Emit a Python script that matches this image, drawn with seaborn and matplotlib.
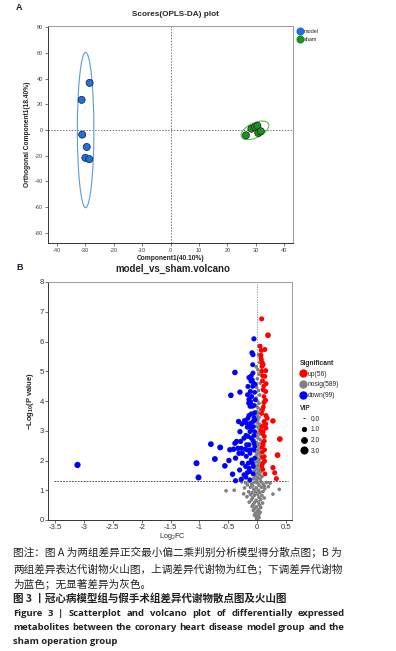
import numpy as np
import pandas as pd
import matplotlib
matplotlib.use("Agg")
import matplotlib.pyplot as plt
from matplotlib.lines import Line2D
from matplotlib.patches import Ellipse
import seaborn as sns

sns.set_theme(style="white")
plt.rcParams["font.family"] = ["Liberation Sans", "Noto Sans CJK SC", "DejaVu Sans"]
plt.rcParams["axes.unicode_minus"] = False
plt.rcParams["mathtext.default"] = "regular"

# ---------------- data ----------------
# Panel A: OPLS-DA scores
model_pc1 = [-28.4, -31.2, -31.0, -29.4, -29.9, -28.5]
model_pc2 = [36.7, 23.5, -3.6, -13.2, -21.7, -22.7]
sham_pc1 = [26.5, 28.4, 29.6, 30.5, 30.8, 31.7]
sham_pc2 = [-4.1, 1.0, 2.3, 3.3, -2.3, -1.0]
groups = ["model", "sham"]
pc1_label = "Component1(40.10%)"
pc2_label = "Orthogonal Component1(18.40%)"

# Panel B: volcano (log2FC, -log10 P, VIP)
up_points = [
    (0.075, 6.76, 1.5), (0.185, 6.21, 2.0), (0.05, 5.84, 1.4), (0.13, 5.73, 1.5), (0.07, 5.70, 1.4),
    (0.064, 5.54, 1.4), (0.07, 5.39, 1.4), (0.087, 5.28, 1.5), (0.10, 5.22, 1.5), (0.08, 5.16, 1.4),
    (0.145, 5.02, 1.5), (0.13, 4.83, 1.5), (0.09, 4.68, 1.4), (0.15, 4.58, 1.5), (0.10, 4.38, 1.4),
    (0.145, 4.32, 1.5), (0.14, 4.02, 1.6), (0.116, 3.95, 1.5), (0.15, 3.51, 1.5), (0.17, 3.42, 1.5),
    (0.27, 3.33, 1.8), (0.116, 3.31, 1.4), (0.145, 3.23, 1.5), (0.08, 3.14, 1.4), (0.15, 3.09, 1.4),
    (0.10, 2.97, 1.4), (0.12, 2.81, 1.4), (0.12, 2.65, 1.4), (0.39, 2.72, 2.0), (0.127, 2.36, 1.3),
    (0.12, 2.13, 1.3), (0.35, 2.18, 2.0), (0.127, 1.98, 1.3), (0.27, 1.76, 1.6), (0.30, 1.59, 1.5),
    (0.133, 1.55, 1.3), (0.33, 1.39, 1.5), (0.09, 2.90, 1.3), (0.095, 2.60, 1.3), (0.08, 2.45, 1.3),
    (0.085, 2.28, 1.3), (0.09, 2.10, 1.3), (0.10, 1.92, 1.3), (0.095, 1.70, 1.3), (0.105, 3.80, 1.3),
    (0.09, 3.70, 1.3), (0.075, 3.58, 1.3), (0.062, 5.45, 1.3), (0.075, 5.00, 1.3), (0.11, 4.50, 1.3),
    (0.115, 4.15, 1.3), (0.09, 4.85, 1.3), (0.125, 3.20, 1.3), (0.06, 3.00, 1.3), (0.10, 2.52, 1.3),
    (0.08, 1.82, 1.3),
]
down_points = [
    (-0.058, 6.09, 1.6), (-0.092, 5.62, 1.6), (-0.075, 5.56, 1.6), (-0.08, 5.22, 1.4), (-0.387, 4.96, 1.9),
    (-0.075, 4.94, 1.4), (-0.145, 4.79, 1.5), (-0.087, 4.71, 1.4), (-0.11, 4.67, 1.5), (-0.064, 4.60, 1.4),
    (-0.035, 4.56, 1.3), (-0.12, 4.32, 1.5), (-0.30, 4.30, 1.7), (-0.168, 4.21, 1.5), (-0.457, 4.19, 1.9),
    (-0.098, 4.15, 1.4), (-0.145, 4.05, 1.5), (-0.116, 3.98, 1.4), (-0.098, 3.87, 1.4), (-0.058, 3.85, 1.4),
    (-0.104, 3.57, 1.4), (-0.145, 3.51, 1.5), (-0.162, 3.42, 1.5), (-0.22, 3.34, 1.6), (-0.324, 3.31, 1.7),
    (-0.266, 3.23, 1.6), (-0.116, 3.25, 1.4), (-0.075, 3.31, 1.4), (-0.173, 3.12, 1.5), (-0.104, 3.03, 1.4),
    (-0.046, 2.97, 1.3), (-0.30, 2.97, 1.7), (-0.127, 2.97, 1.4), (-0.197, 2.84, 1.5), (-0.058, 2.84, 1.4),
    (-0.104, 2.75, 1.4), (-0.075, 2.67, 1.4), (-0.358, 2.64, 1.7), (-0.185, 2.53, 1.5), (-0.145, 2.53, 1.5),
    (-0.387, 2.58, 1.7), (-0.803, 2.55, 2.0), (-0.058, 2.58, 1.4), (-0.642, 2.44, 2.1), (-0.41, 2.38, 1.8),
    (-0.474, 2.36, 1.8), (-0.173, 2.36, 1.5), (-0.26, 2.24, 1.6), (-0.127, 2.24, 1.4), (-0.318, 2.24, 1.6),
    (-0.19, 2.14, 1.5), (-0.376, 2.08, 1.7), (-0.734, 2.05, 2.1), (-0.491, 2.00, 1.8), (-1.052, 1.91, 2.2),
    (-0.561, 1.82, 1.9), (-0.145, 1.74, 1.5), (-0.07, 1.80, 1.4), (-3.11, 1.85, 2.4), (-0.306, 1.68, 1.6),
    (-0.173, 1.59, 1.5), (-0.428, 1.54, 1.8), (-0.07, 1.55, 1.4), (-0.197, 1.44, 1.5), (-1.017, 1.43, 2.2),
    (-0.277, 1.37, 1.6), (-0.376, 1.32, 1.6), (-0.127, 1.35, 1.4), (-0.087, 1.91, 1.4), (-0.046, 2.08, 1.3),
    (-0.058, 2.36, 1.4), (-0.046, 2.47, 1.3), (-0.07, 3.14, 1.4), (-0.04, 3.37, 1.3), (-0.046, 3.61, 1.3),
    (-0.035, 4.04, 1.3), (-0.046, 4.29, 1.3), (-0.08, 4.49, 1.4), (-0.162, 2.81, 1.5), (-0.23, 2.75, 1.6),
    (-0.116, 2.36, 1.4), (-0.208, 2.38, 1.5), (-0.277, 2.41, 1.6), (-0.104, 2.02, 1.4), (-0.156, 1.91, 1.5),
    (-0.202, 1.80, 1.5), (-0.26, 1.91, 1.6), (-0.127, 1.63, 1.4), (-0.23, 1.52, 1.5), (-0.335, 2.41, 1.7),
    (-0.289, 2.64, 1.6), (-0.145, 3.14, 1.5), (-0.19, 3.26, 1.5), (-0.087, 3.82, 1.4), (-0.127, 3.82, 1.4),
    (-0.162, 4.49, 1.5), (-0.104, 4.85, 1.4), (-0.15, 3.93, 1.5), (-0.06, 3.45, 1.3),
]
nosig_points = [
    (0.03, 5.85), (0.02, 5.55), (0.04, 5.30), (-0.02, 5.15), (0.01, 5.05), (0.03, 4.90), (0.0, 4.75),
    (0.05, 4.60), (-0.01, 4.45), (0.02, 4.35), (0.04, 4.20), (-0.02, 4.10), (0.0, 4.00), (0.03, 3.92),
    (-0.03, 3.85), (0.01, 3.78), (0.05, 3.72), (-0.01, 3.65), (0.02, 3.60), (-0.04, 3.55), (0.0, 3.50),
    (0.03, 3.45), (-0.02, 3.40), (0.01, 3.35),
    (-0.05, 3.30), (0.0, 3.28), (0.04, 3.22), (-0.02, 3.15), (0.02, 3.10), (0.05, 3.02), (-0.04, 2.98),
    (0.0, 2.93), (0.03, 2.88), (-0.02, 2.82), (0.01, 2.76), (0.05, 2.70), (-0.05, 2.66), (-0.01, 2.60),
    (0.03, 2.55), (0.0, 2.50), (-0.03, 2.45), (0.04, 2.40), (0.01, 2.35), (-0.04, 2.30), (0.02, 2.26),
    (-0.01, 2.20), (0.05, 2.16), (-0.03, 2.12), (0.0, 2.08), (0.03, 2.03),
    (-0.06, 1.98), (-0.01, 1.95), (0.04, 1.92), (0.07, 1.88), (-0.04, 1.85), (0.01, 1.82), (-0.07, 1.78),
    (0.05, 1.76), (-0.02, 1.72), (0.02, 1.68), (-0.05, 1.65), (0.06, 1.62), (0.0, 1.58), (-0.08, 1.55),
    (0.04, 1.52), (-0.03, 1.48), (0.08, 1.46), (0.01, 1.42), (-0.06, 1.40), (0.05, 1.38), (-0.01, 1.35),
    (-0.27, 1.28), (-0.20, 1.25), (-0.14, 1.30), (-0.10, 1.22), (-0.05, 1.27), (0.0, 1.25), (0.06, 1.29),
    (0.10, 1.21), (0.16, 1.26), (0.22, 1.24), (-0.17, 1.18), (-0.08, 1.15), (0.03, 1.17), (0.12, 1.14),
    (-0.12, 1.10), (-0.02, 1.08), (0.07, 1.10), (0.19, 1.12), (-0.22, 1.08), (0.13, 1.05), (-0.06, 1.03),
    (0.02, 1.00), (-0.54, 0.98), (-0.40, 1.00), (-0.235, 0.88), (0.38, 1.03), (0.27, 0.87),
    (-0.15, 0.95), (-0.09, 0.92), (-0.03, 0.94), (0.05, 0.93), (0.10, 0.96), (-0.12, 0.85), (-0.05, 0.83),
    (0.01, 0.86), (0.08, 0.82), (-0.18, 0.78), (-0.08, 0.75), (0.03, 0.76), (0.12, 0.74), (-0.10, 0.68),
    (-0.02, 0.66), (0.06, 0.69), (-0.14, 0.60), (-0.05, 0.58), (0.02, 0.60), (0.09, 0.57), (-0.07, 0.52),
    (0.04, 0.50),
    (-0.09, 0.46), (-0.02, 0.44), (0.06, 0.42), (-0.05, 0.38), (0.02, 0.35), (-0.07, 0.32), (0.0, 0.29),
    (0.05, 0.26), (-0.03, 0.23), (0.03, 0.20), (-0.05, 0.17), (0.01, 0.14), (-0.02, 0.10), (0.03, 0.08),
    (0.0, 0.05), (-0.01, 0.02),
]
nosig_vip = 0.7
sig_labels = ["up(56)", "nosig(589)", "down(99)"]
vip_levels = [0.0, 1.0, 2.0, 3.0]
p_cut = 0.05

caption_cn = [
    "图注：图 A 为两组差异正交最小偏二乘判别分析模型得分散点图；B 为",
    "两组差异表达代谢物火山图，上调差异代谢物为红色；下调差异代谢物",
    "为蓝色；无显著差异为灰色。",
]
caption_cn_title = "图 3 丨冠心病模型组与假手术组差异代谢物散点图及火山图"
caption_en = [
    "Figure 3  |  Scatterplot and volcano plot of differentially expressed",
    "metabolites between the coronary heart disease model group and the",
    "sham operation group",
]

# ---------------- figure ----------------
W, H = 396, 651
fig = plt.figure(figsize=(W / 100, H / 100), dpi=100)
fig.patch.set_facecolor("white")


def fx(px):
    return px / W


def fy(py):
    return 1 - py / H


group_colors = {"model": "#1f6fe5", "sham": "#1c921c"}

# ---- Panel A ----
axA = fig.add_axes([fx(48), fy(243), fx(245), 217 / H])
dfA = pd.DataFrame({
    "pc1": model_pc1 + sham_pc1,
    "pc2": model_pc2 + sham_pc2,
    "group": ["model"] * len(model_pc1) + ["sham"] * len(sham_pc1),
})
axA.axhline(0, color="#777777", lw=0.7, ls=(0, (1.5, 1.5)), zorder=0)
axA.axvline(0, color="#777777", lw=0.7, ls=(0, (1.5, 1.5)), zorder=0)
axA.add_patch(Ellipse((-29.8, 0), 5.8, 121, fill=False, edgecolor="#5b9ad8", lw=0.8))
t = np.linspace(0, 2 * np.pi, 200)
axA.plot(29.65 + 4.75 * np.cos(t) - 1.05 * np.sin(t),
         -0.25 + 5.05 * np.cos(t) + 5.2 * np.sin(t), color="#5cb85c", lw=0.8)
sns.scatterplot(data=dfA, x="pc1", y="pc2", hue="group", palette=group_colors,
                s=26, edgecolor="#1a1a1a", linewidth=0.5, legend=False, ax=axA, zorder=3)
axA.set_xlim(-43, 43)
axA.set_ylim(-88, 81)
axA.set_xticks(range(-40, 41, 10))
axA.set_yticks(range(-80, 81, 20))
axA.tick_params(labelsize=4, colors="#444444", length=2, width=0.5, pad=1.5,
                bottom=True, left=True)
axA.set_xlabel(pc1_label, fontsize=4.8, fontweight="bold", labelpad=1.5)
axA.set_ylabel(pc2_label, fontsize=4.8, fontweight="bold", labelpad=3)
for side in ["left", "bottom"]:
    axA.spines[side].set_color("#333333")
    axA.spines[side].set_linewidth(0.7)
for side in ["top", "right"]:
    axA.spines[side].set_color("#9a9a9a")
    axA.spines[side].set_linewidth(0.7)

handlesA = [Line2D([], [], marker="o", ls="", markersize=4.8, markerfacecolor=group_colors[g],
                   markeredgecolor=group_colors[g]) for g in groups]
axA.legend(handlesA, groups, loc="upper left", bbox_to_anchor=(fx(298), fy(29)),
           bbox_transform=fig.transFigure, frameon=False, fontsize=4, handlelength=0.8,
           handletextpad=0.3, labelspacing=0.6, borderaxespad=0, borderpad=0)

fig.text(fx(16), fy(8), "A", fontsize=6.5, fontweight="bold", color="#1a1a2e", va="center")
fig.text(fx(175), fy(14), "Scores(OPLS-DA) plot", fontsize=5.9, fontweight="bold",
         ha="center", va="center")

# ---- Panel B ----
axB = fig.add_axes([fx(48), fy(520), fx(244), 238 / H])
frames = []
for name, pts in [("nosig", [(x, y, nosig_vip) for x, y in nosig_points]),
                  ("down", down_points), ("up", up_points)]:
    fc, lp, vp = zip(*pts)
    frames.append(pd.DataFrame({"log2fc": fc, "logp": lp, "vip": vp, "sig": name}))
dfB = pd.concat(frames, ignore_index=True)
sig_colors = {"up": "#ff0000", "nosig": "#808080", "down": "#0000ff"}

axB.axvline(0, color="#8a8a8a", lw=0.6, ls=(0, (1.5, 1.5)), zorder=0)
axB.hlines(-np.log10(p_cut), -3.52, 0.53, color="#333333", lw=0.6, ls=(0, (2, 1.5)), zorder=0)
sns.scatterplot(data=dfB, x="log2fc", y="logp", hue="sig", size="vip", palette=sig_colors,
                sizes=(1.5, 25), size_norm=(0, 3), linewidth=0, legend=False, ax=axB, zorder=3)
axB.set_xlim(-3.62, 0.6)
axB.set_ylim(0, 8)
axB.set_xticks(np.arange(-3.5, 0.51, 0.5))
axB.set_xticklabels(["-3.5", "-3", "-2.5", "-2", "-1.5", "-1", "-0.5", "0", "0.5"])
axB.set_yticks(range(0, 9))
axB.tick_params(labelsize=5.6, colors="#333333", length=2, width=0.5, pad=1,
                bottom=True, left=True)
axB.set_xlabel("")
axB.set_ylabel("")
for side in ["left", "bottom"]:
    axB.spines[side].set_color("#333333")
    axB.spines[side].set_linewidth(0.7)
for side in ["top", "right"]:
    axB.spines[side].set_color("#9a9a9a")
    axB.spines[side].set_linewidth(0.7)

fig.text(fx(172), fy(537), "Log$_2$FC", fontsize=5.2, ha="center", va="center")
fig.text(fx(30), fy(401), r"$-$Log$_{10}$($P$ value)", fontsize=5.5, rotation=90,
         ha="center", va="center", fontweight="bold")
fig.text(fx(16), fy(267), "B", fontsize=6.5, fontweight="bold", color="#1a1a2e", va="center")
fig.text(fx(173), fy(269), "model_vs_sham.volcano", fontsize=7, fontweight="bold",
         ha="center", va="center")

handles_sig = [Line2D([], [], marker="o", ls="", markersize=5, markerfacecolor=sig_colors[k],
                      markeredgecolor=sig_colors[k]) for k in ["up", "nosig", "down"]]
leg1 = axB.legend(handles_sig, sig_labels, title="Significant", loc="upper left",
                  bbox_to_anchor=(fx(300), fy(360)), bbox_transform=fig.transFigure,
                  frameon=False, fontsize=4.8, title_fontproperties={"weight": "bold", "size": 4.8},
                  alignment="left", handlelength=0.9, handletextpad=0.3, labelspacing=0.55,
                  borderaxespad=0, borderpad=0)
axB.add_artist(leg1)
vip_sizes = [1.4, 3.2, 4.3, 5.2]
handles_vip = [Line2D([], [], marker="_" if v == 0 else "o", ls="", markersize=ms,
                      markerfacecolor="black", markeredgecolor="black", markeredgewidth=0.6)
               for v, ms in zip(vip_levels, vip_sizes)]
axB.legend(handles_vip, [f"{v:.1f}" for v in vip_levels], title="VIP", loc="upper left",
           bbox_to_anchor=(fx(300), fy(405)), bbox_transform=fig.transFigure,
           frameon=False, fontsize=4.8, title_fontproperties={"weight": "bold", "size": 4.8},
           alignment="left", handlelength=1.2, handletextpad=0.4, labelspacing=0.55,
           borderaxespad=0, borderpad=0)

# ---- caption ----
cn_family = ["Noto Sans CJK SC", "DejaVu Sans"]
for line, py in zip(caption_cn, [553, 569, 584]):
    fig.text(fx(13), fy(py), line, fontsize=7.65, family=cn_family, color="#222222", va="center")
fig.text(fx(13), fy(599), caption_cn_title, fontsize=7.6, family=cn_family, fontweight="bold",
         color="#222222", va="center")


def justify(line, py, x0, x1, **kw):
    words = line.split()
    texts = [fig.text(0, fy(py), w, va="center", **kw) for w in words]
    fig.canvas.draw()
    r = fig.canvas.get_renderer()
    widths = [tt.get_window_extent(r).width / fig.bbox.width for tt in texts]
    gap = (x1 - x0 - sum(widths)) / (len(words) - 1)
    x = x0
    for tt, w in zip(texts, widths):
        tt.set_x(x)
        x += w + gap


en_kw = dict(fontsize=6.8, family=["Open Sans", "DejaVu Sans"], fontweight="bold", color="#222222")
justify(caption_en[0], 613, fx(13), fx(345), **en_kw)
justify(caption_en[1], 627, fx(13), fx(345), **en_kw)
fig.text(fx(13), fy(641), caption_en[2], va="center", **en_kw)

fig.savefig("out.png", dpi=100)
plt.close(fig)
